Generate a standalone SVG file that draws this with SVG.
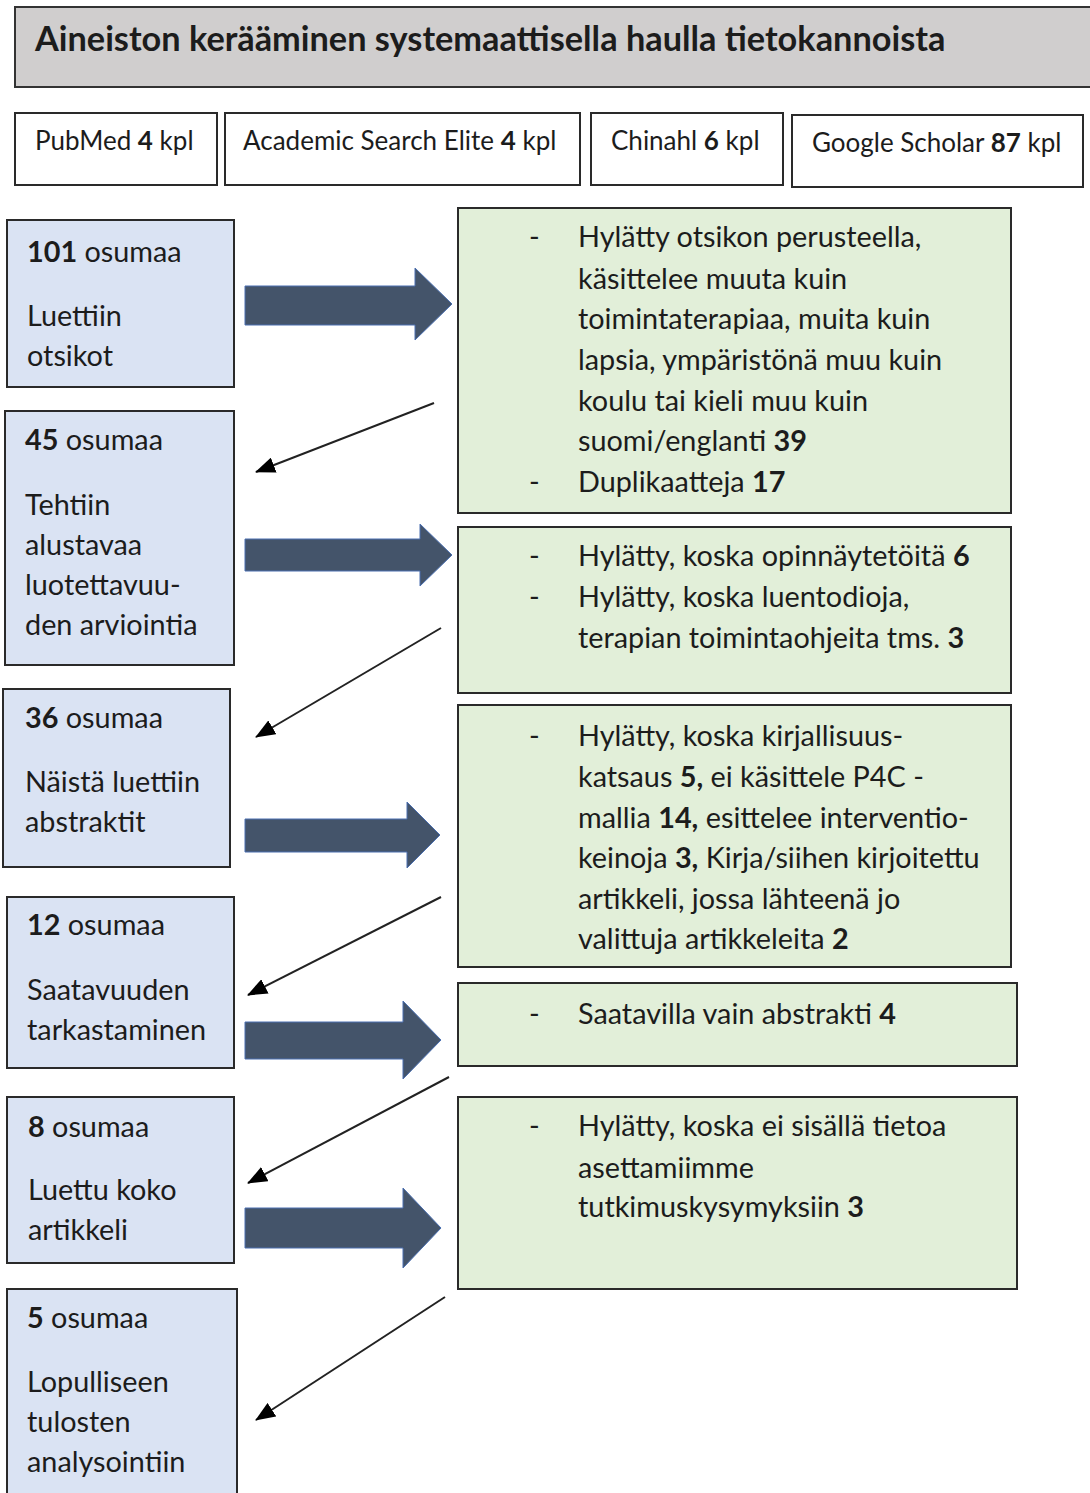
<svg xmlns="http://www.w3.org/2000/svg" width="1090" height="1493" viewBox="0 0 1090 1493">
  <style>
    text { font-family: Lato, "Liberation Sans", sans-serif; fill: #1c1c1c; }
    .title { font-size: 34.3px; font-weight: bold; }
    .src { font-size: 26px; }
    .body { font-size: 28.8px; }
    .b { font-weight: bold; }
    .head { fill: #d0cece; stroke: #333; stroke-width: 2; }
    .srcbox { fill: #fff; stroke: #2a2a2a; stroke-width: 2; }
    .step { fill: #dae3f3; stroke: #2a2a2a; stroke-width: 2; }
    .excl { fill: #e2efd9; stroke: #2a2a2a; stroke-width: 2; }
    .block { fill: #44546a; stroke: #4a6fb0; stroke-width: 1; }
    .thin { stroke: #222; stroke-width: 2; fill: none; marker-end: url(#tip); }
  </style>
  <defs>
    <marker id="tip" markerUnits="userSpaceOnUse" markerWidth="20" markerHeight="16" viewBox="0 0 20 16" refX="19" refY="8" orient="auto">
      <path d="M0,0 L20,8 L0,16 Z" fill="#000"/>
    </marker>
  </defs>

  <rect width="1090" height="1493" fill="#fff"/>

  <!-- heading -->
  <g id="header">
    <rect class="head" x="15" y="7" width="1085" height="80"/>
    <text class="title" x="35" y="51">Aineiston kerääminen systemaattisella haulla tietokannoista</text>
  </g>

  <!-- databases -->
  <g id="src-pubmed">
    <rect class="srcbox" x="15" y="113" width="202" height="72"/>
    <text class="src" x="35" y="150">PubMed <tspan class="b">4</tspan> kpl</text>
  </g>
  <g id="src-ase">
    <rect class="srcbox" x="225" y="113" width="355" height="72"/>
    <text class="src" x="243" y="150">Academic Search Elite <tspan class="b">4</tspan> kpl</text>
  </g>
  <g id="src-chinahl">
    <rect class="srcbox" x="591" y="113" width="192" height="72"/>
    <text class="src" x="611" y="150">Chinahl <tspan class="b">6</tspan> kpl</text>
  </g>
  <g id="src-scholar">
    <rect class="srcbox" x="792" y="115" width="291" height="72"/>
    <text class="src" x="812" y="152">Google Scholar <tspan class="b">87</tspan> kpl</text>
  </g>

  <!-- screening steps -->
  <g id="step-101">
    <rect class="step" x="7" y="220" width="227" height="167"/>
    <text class="body" x="27" y="262"><tspan class="b">101</tspan> osumaa</text>
    <text class="body" x="27" y="326">Luettiin</text>
    <text class="body" x="27" y="366">otsikot</text>
  </g>
  <g id="step-45">
    <rect class="step" x="5" y="411" width="229" height="254"/>
    <text class="body" x="25" y="450"><tspan class="b">45</tspan> osumaa</text>
    <text class="body" x="25" y="515">Tehtiin</text>
    <text class="body" x="25" y="555">alustavaa</text>
    <text class="body" x="25" y="595">luotettavuu-</text>
    <text class="body" x="25" y="635">den arviointia</text>
  </g>
  <g id="step-36">
    <rect class="step" x="3" y="689" width="227" height="178"/>
    <text class="body" x="25" y="728"><tspan class="b">36</tspan> osumaa</text>
    <text class="body" x="25" y="792">Näistä luettiin</text>
    <text class="body" x="25" y="832">abstraktit</text>
  </g>
  <g id="step-12">
    <rect class="step" x="7" y="897" width="227" height="171"/>
    <text class="body" x="27" y="935"><tspan class="b">12</tspan> osumaa</text>
    <text class="body" x="27" y="1000">Saatavuuden</text>
    <text class="body" x="27" y="1040">tarkastaminen</text>
  </g>
  <g id="step-8">
    <rect class="step" x="7" y="1097" width="227" height="166"/>
    <text class="body" x="28" y="1137"><tspan class="b">8</tspan> osumaa</text>
    <text class="body" x="28" y="1200">Luettu koko</text>
    <text class="body" x="28" y="1240">artikkeli</text>
  </g>
  <g id="step-5">
    <rect class="step" x="7" y="1289" width="230" height="220"/>
    <text class="body" x="27" y="1328"><tspan class="b">5</tspan> osumaa</text>
    <text class="body" x="27" y="1392">Lopulliseen</text>
    <text class="body" x="27" y="1432">tulosten</text>
    <text class="body" x="27" y="1472">analysointiin</text>
  </g>

  <!-- exclusions -->
  <g id="excl-1">
    <rect class="excl" x="458" y="208" width="553" height="305"/>
    <text class="body" x="529" y="247">-</text>
    <text class="body" x="578" y="247">Hylätty otsikon perusteella,</text>
    <text class="body" x="578" y="289">käsittelee muuta kuin</text>
    <text class="body" x="578" y="329">toimintaterapiaa, muita kuin</text>
    <text class="body" x="578" y="370">lapsia, ympäristönä muu kuin</text>
    <text class="body" x="578" y="411">koulu tai kieli muu kuin</text>
    <text class="body" x="578" y="451">suomi/englanti <tspan class="b">39</tspan></text>
    <text class="body" x="529" y="492">-</text>
    <text class="body" x="578" y="492">Duplikaatteja <tspan class="b">17</tspan></text>
  </g>
  <g id="excl-2">
    <rect class="excl" x="458" y="527" width="553" height="166"/>
    <text class="body" x="529" y="566">-</text>
    <text class="body" x="578" y="566">Hylätty, koska opinnäytetöitä <tspan class="b">6</tspan></text>
    <text class="body" x="529" y="607">-</text>
    <text class="body" x="578" y="607">Hylätty, koska luentodioja,</text>
    <text class="body" x="578" y="648">terapian toimintaohjeita tms. <tspan class="b">3</tspan></text>
  </g>
  <g id="excl-3">
    <rect class="excl" x="458" y="705" width="553" height="262"/>
    <text class="body" x="529" y="746">-</text>
    <text class="body" x="578" y="746">Hylätty, koska kirjallisuus-</text>
    <text class="body" x="578" y="787">katsaus <tspan class="b">5,</tspan> ei käsittele P4C -</text>
    <text class="body" x="578" y="828">mallia <tspan class="b">14,</tspan> esittelee interventio-</text>
    <text class="body" x="578" y="868">keinoja <tspan class="b">3,</tspan> Kirja/siihen kirjoitettu</text>
    <text class="body" x="578" y="909">artikkeli, jossa lähteenä jo</text>
    <text class="body" x="578" y="949">valittuja artikkeleita <tspan class="b">2</tspan></text>
  </g>
  <g id="excl-4">
    <rect class="excl" x="458" y="983" width="559" height="83"/>
    <text class="body" x="529" y="1024">-</text>
    <text class="body" x="578" y="1024">Saatavilla vain abstrakti <tspan class="b">4</tspan></text>
  </g>
  <g id="excl-5">
    <rect class="excl" x="458" y="1097" width="559" height="192"/>
    <text class="body" x="529" y="1136">-</text>
    <text class="body" x="578" y="1136">Hylätty, koska ei sisällä tietoa</text>
    <text class="body" x="578" y="1178">asettamiimme</text>
    <text class="body" x="578" y="1217">tutkimuskysymyksiin <tspan class="b">3</tspan></text>
  </g>

  <!-- connectors -->
  <g id="connectors">
    <path class="block" d="M245,286 L415,286 L415,268 L452,304 L415,340 L415,325 L245,325 Z"/>
    <path class="block" d="M245,539 L420,539 L420,524 L452,555 L420,586 L420,571 L245,571 Z"/>
    <path class="block" d="M245,819 L407,819 L407,802 L440,835 L407,868 L407,852 L245,852 Z"/>
    <path class="block" d="M245,1022 L403,1022 L403,1001 L441,1040 L403,1079 L403,1059 L245,1059 Z"/>
    <path class="block" d="M245,1208 L403,1208 L403,1188 L441,1228 L403,1268 L403,1248 L245,1248 Z"/>
    <line class="thin" x1="434" y1="403" x2="256" y2="472"/>
    <line class="thin" x1="441" y1="628" x2="256" y2="737"/>
    <line class="thin" x1="441" y1="897" x2="248" y2="995"/>
    <line class="thin" x1="449" y1="1077" x2="248" y2="1183"/>
    <line class="thin" x1="445" y1="1297" x2="256" y2="1420"/>
  </g>
</svg>
